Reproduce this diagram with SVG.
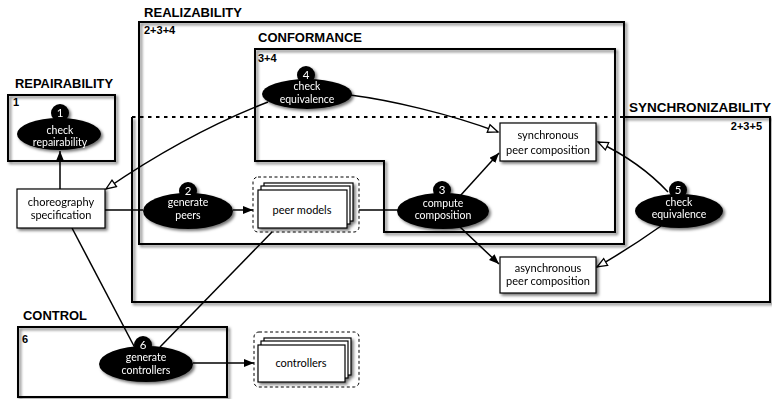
<svg xmlns="http://www.w3.org/2000/svg" width="772" height="399" viewBox="0 0 772 399">
<defs>
<filter id="sh" x="-10%" y="-10%" width="130%" height="130%">
<feDropShadow dx="2" dy="2" stdDeviation="1.5" flood-color="#000" flood-opacity="0.55"/>
</filter>
<marker id="af" markerUnits="userSpaceOnUse" markerWidth="12" markerHeight="10" refX="10" refY="4" orient="auto">
<path d="M0,0 L10,4 L0,8 z" fill="#000"/>
</marker>
<marker id="ao" markerUnits="userSpaceOnUse" markerWidth="14" markerHeight="12" refX="11" refY="5" orient="auto">
<path d="M1,1 L11,5 L1,9 z" fill="#fff" stroke="#000" stroke-width="1.3"/>
</marker>
<style>
.cont{fill:none;stroke:#000;stroke-width:2}
.hdr{font-family:"Liberation Sans",Arial,sans-serif;font-weight:bold;font-size:12px;fill:#000}
.num{font-family:"Liberation Sans",Arial,sans-serif;font-weight:bold;font-size:11px;fill:#000}
.ell{fill:#000}
.nt{font-family:Lato,"Open Sans",sans-serif;font-size:10.5px;fill:#fff;text-anchor:middle}
.nn{font-family:Lato,"Open Sans",sans-serif;font-size:11.5px;fill:#fff;text-anchor:middle}
.box{fill:#fff;stroke:#000;stroke-width:1.2}
.bt{font-family:Lato,"Open Sans",sans-serif;font-size:11px;fill:#000;text-anchor:middle}
.dash{fill:none;stroke:#000;stroke-width:1;stroke-dasharray:3,2.5}
.c{fill:none;stroke:#000;stroke-width:1.5}
</style>
</defs>
<rect width="772" height="399" fill="#fff"/>

<g id="containers">
<g id="realizability">
<rect class="cont" x="139" y="22" width="485" height="222" filter="url(#sh)"/>
<text class="hdr" x="144" y="17" textLength="98" lengthAdjust="spacingAndGlyphs">REALIZABILITY</text>
<text class="num" x="144" y="34">2+3+4</text>
</g>
<g id="conformance">
<path class="cont" d="M255,49 L615,49 L615,232 L384,232 L384,161 L255,161 Z" filter="url(#sh)"/>
<text class="hdr" x="258" y="42" textLength="104" lengthAdjust="spacingAndGlyphs">CONFORMANCE</text>
<text class="num" x="258" y="62">3+4</text>
</g>
<g id="synchronizability">
<path class="cont" d="M623,117 L770,117 L770,302 L132,302 L132,117" filter="url(#sh)"/>
<line x1="132" y1="117" x2="623" y2="117" stroke="#000" stroke-width="2" stroke-dasharray="3.5,4.5"/>
<text class="hdr" x="629" y="112" textLength="142" lengthAdjust="spacingAndGlyphs">SYNCHRONIZABILITY</text>
<text class="num" x="762" y="130" text-anchor="end">2+3+5</text>
</g>
<g id="repairability">
<rect class="cont" x="8" y="95" width="107" height="66" filter="url(#sh)"/>
<text class="hdr" x="15" y="88" textLength="98" lengthAdjust="spacingAndGlyphs">REPAIRABILITY</text>
<text class="num" x="13" y="106">1</text>
</g>
<g id="control">
<rect class="cont" x="18" y="327" width="209" height="70" filter="url(#sh)"/>
<text class="hdr" x="23" y="320" textLength="64" lengthAdjust="spacingAndGlyphs">CONTROL</text>
<text class="num" x="22" y="343">6</text>
</g>
</g>

<g id="connectors">
<line class="c" x1="60" y1="189" x2="60" y2="151" marker-end="url(#af)"/>
<path class="c" d="M268,102 Q188,133 106,189" marker-end="url(#ao)"/>
<line class="c" x1="105" y1="210" x2="143" y2="210"/>
<line class="c" x1="233" y1="210" x2="253" y2="210" marker-end="url(#af)"/>
<line class="c" x1="359" y1="210" x2="398" y2="210"/>
<line class="c" x1="460" y1="196" x2="499" y2="153" marker-end="url(#af)"/>
<line class="c" x1="460" y1="227" x2="499" y2="264" marker-end="url(#af)"/>
<path class="c" d="M350,95 C390,100 450,114 498,132" marker-end="url(#ao)"/>
<path class="c" d="M668,192 Q640,162 598,142" marker-end="url(#ao)"/>
<path class="c" d="M661,226 Q630,248 597,267" marker-end="url(#ao)"/>
<line class="c" x1="72" y1="228" x2="135" y2="348"/>
<line class="c" x1="272" y1="232" x2="160" y2="347"/>
<line class="c" x1="193" y1="363" x2="254" y2="363" marker-end="url(#af)"/>
</g>

<g id="n1" filter="url(#sh)">
<ellipse class="ell" cx="59" cy="134" rx="42" ry="16"/>
<circle class="ell" cx="60" cy="113" r="9"/>
<text class="nn" x="60" y="117">1</text>
<text class="nt" x="60" y="134">check</text>
<text class="nt" x="60" y="146">repairability</text>
</g>
<g id="spec" filter="url(#sh)">
<rect class="box" x="17" y="189" width="88" height="39"/>
<text class="bt" x="61" y="206">choreography</text>
<text class="bt" x="61" y="219">specification</text>
</g>
<g id="n2" filter="url(#sh)">
<ellipse class="ell" cx="188" cy="211" rx="45" ry="18"/>
<circle class="ell" cx="188" cy="191" r="9"/>
<text class="nn" x="188" y="195">2</text>
<text class="nt" x="188" y="206">generate</text>
<text class="nt" x="188" y="219">peers</text>
</g>
<g id="peers">
<rect class="dash" x="253" y="177" width="106" height="55" rx="5"/>
<g filter="url(#sh)">
<rect class="box" x="264" y="183" width="89" height="38"/>
<rect class="box" x="261" y="186" width="89" height="38"/>
<rect class="box" x="258" y="190" width="89" height="38"/>
</g>
<text class="bt" x="302" y="214">peer models</text>
</g>
<g id="n3" filter="url(#sh)">
<ellipse class="ell" cx="443" cy="211" rx="46" ry="18"/>
<circle class="ell" cx="442" cy="190" r="9"/>
<text class="nn" x="442" y="194">3</text>
<text class="nt" x="443" y="207">compute</text>
<text class="nt" x="443" y="219">composition</text>
</g>
<g id="n4" filter="url(#sh)">
<ellipse class="ell" cx="307" cy="94" rx="45" ry="15"/>
<circle class="ell" cx="306" cy="75" r="9"/>
<text class="nn" x="306" y="79">4</text>
<text class="nt" x="307" y="90">check</text>
<text class="nt" x="307" y="103">equivalence</text>
</g>
<g id="sync" filter="url(#sh)">
<rect class="box" x="500" y="123" width="96" height="38"/>
<text class="bt" x="548" y="139">synchronous</text>
<text class="bt" x="548" y="154">peer composition</text>
</g>
<g id="async" filter="url(#sh)">
<rect class="box" x="500" y="257" width="96" height="36"/>
<text class="bt" x="548" y="272">asynchronous</text>
<text class="bt" x="548" y="285">peer composition</text>
</g>
<g id="n5" filter="url(#sh)">
<ellipse class="ell" cx="679" cy="211" rx="44" ry="17"/>
<circle class="ell" cx="678" cy="190" r="9"/>
<text class="nn" x="678" y="194">5</text>
<text class="nt" x="679" y="206">check</text>
<text class="nt" x="679" y="218">equivalence</text>
</g>
<g id="n6" filter="url(#sh)">
<ellipse class="ell" cx="146" cy="364" rx="47" ry="18"/>
<circle class="ell" cx="143" cy="345" r="9"/>
<text class="nn" x="143" y="349">6</text>
<text class="nt" x="146" y="361">generate</text>
<text class="nt" x="146" y="374">controllers</text>
</g>
<g id="controllers">
<rect class="dash" x="254" y="332" width="105" height="55" rx="5"/>
<g filter="url(#sh)">
<rect class="box" x="264" y="338" width="87" height="37"/>
<rect class="box" x="261" y="341" width="87" height="37"/>
<rect class="box" x="258" y="345" width="87" height="37"/>
</g>
<text class="bt" x="301" y="367">controllers</text>
</g>
</svg>
